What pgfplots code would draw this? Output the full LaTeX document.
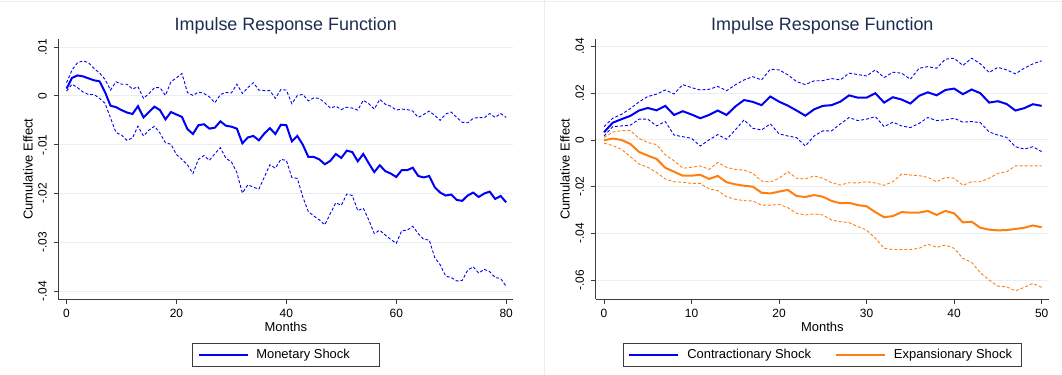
\documentclass[border=0pt]{standalone}
\usepackage{fontspec}
\setmainfont{Liberation Sans}
\usepackage{pgfplots}
\usepackage{pgfplotstable}
\pgfplotsset{compat=1.18}

\definecolor{irfblue}{RGB}{0,0,245}
\definecolor{irforange}{RGB}{255,127,14}
\definecolor{titlenavy}{RGB}{28,45,80}
\definecolor{gridc}{RGB}{231,239,242}
\definecolor{axisc}{RGB}{60,60,60}

% Monetary shock: point estimate (m), upper (hi) and lower (lo) bands
\pgfplotstableread{
t m hi lo
0 0.0015 0.0027 0.0010
1 0.0037 0.0053 0.0024
2 0.0042 0.0068 0.0017
3 0.0040 0.0072 0.0008
4 0.0036 0.0068 0.0003
5 0.0032 0.0056 0.0003
6 0.0030 0.0047 -0.0005
7 0.0008 0.0034 -0.0015
8 -0.0020 0.0012 -0.0045
9 -0.0023 0.0029 -0.0075
10 -0.0029 0.0024 -0.0080
11 -0.0034 0.0024 -0.0091
12 -0.0037 0.0014 -0.0086
13 -0.0021 0.0019 -0.0062
14 -0.0044 -0.0005 -0.0082
15 -0.0033 0.0005 -0.0070
16 -0.0022 0.0017 -0.0062
17 -0.0029 0.0017 -0.0076
18 -0.0048 0.0001 -0.0096
19 -0.0033 0.0029 -0.0099
20 -0.0038 0.0037 -0.0120
21 -0.0043 0.0046 -0.0130
22 -0.0068 0.0007 -0.0141
23 -0.0078 0.0001 -0.0159
24 -0.0060 0.0008 -0.0130
25 -0.0058 0.0005 -0.0122
26 -0.0067 -0.0002 -0.0132
27 -0.0065 -0.0014 -0.0118
28 -0.0052 0.0003 -0.0106
29 -0.0061 0.0007 -0.0128
30 -0.0063 0.0006 -0.0135
31 -0.0067 0.0024 -0.0157
32 -0.0097 0.0005 -0.0199
33 -0.0085 0.0017 -0.0182
34 -0.0082 0.0027 -0.0187
35 -0.0091 0.0012 -0.0191
36 -0.0077 0.0011 -0.0166
37 -0.0066 0.0011 -0.0141
38 -0.0078 -0.0005 -0.0148
39 -0.0059 0.0013 -0.0130
40 -0.0060 0.0012 -0.0132
41 -0.0093 -0.0016 -0.0167
42 -0.0082 0.0001 -0.0169
43 -0.0100 0.0003 -0.0207
44 -0.0125 -0.0010 -0.0237
45 -0.0125 -0.0004 -0.0246
46 -0.0130 -0.0005 -0.0254
47 -0.0140 -0.0014 -0.0264
48 -0.0133 -0.0025 -0.0241
49 -0.0119 -0.0021 -0.0219
50 -0.0127 -0.0028 -0.0224
51 -0.0112 -0.0023 -0.0201
52 -0.0115 -0.0025 -0.0204
53 -0.0134 -0.0029 -0.0235
54 -0.0119 -0.0009 -0.0230
55 -0.0138 -0.0016 -0.0254
56 -0.0156 -0.0027 -0.0282
57 -0.0142 -0.0007 -0.0275
58 -0.0154 -0.0017 -0.0285
59 -0.0159 -0.0021 -0.0294
60 -0.0166 -0.0029 -0.0302
61 -0.0152 -0.0027 -0.0276
62 -0.0152 -0.0028 -0.0275
63 -0.0147 -0.0031 -0.0267
64 -0.0164 -0.0044 -0.0282
65 -0.0167 -0.0038 -0.0294
66 -0.0164 -0.0031 -0.0295
67 -0.0187 -0.0040 -0.0331
68 -0.0198 -0.0050 -0.0346
69 -0.0204 -0.0037 -0.0369
70 -0.0202 -0.0033 -0.0372
71 -0.0213 -0.0044 -0.0379
72 -0.0215 -0.0054 -0.0378
73 -0.0204 -0.0055 -0.0357
74 -0.0198 -0.0046 -0.0350
75 -0.0207 -0.0044 -0.0363
76 -0.0200 -0.0045 -0.0355
77 -0.0196 -0.0036 -0.0360
78 -0.0211 -0.0044 -0.0372
79 -0.0205 -0.0036 -0.0374
80 -0.0218 -0.0044 -0.0390
}\monetary

% Contractionary (c*) and expansionary (e*) shocks with their bands
\pgfplotstableread{
t cm chi clo em ehi elo
0 0.0033 0.0057 0.0017 -0.0001 0.0011 -0.0014
1 0.0074 0.0093 0.0057 0.0006 0.0034 -0.0024
2 0.0089 0.0110 0.0060 0.0000 0.0040 -0.0040
3 0.0103 0.0134 0.0063 -0.0017 0.0040 -0.0071
4 0.0126 0.0163 0.0089 -0.0051 0.0007 -0.0103
5 0.0137 0.0186 0.0089 -0.0067 -0.0011 -0.0117
6 0.0127 0.0196 0.0060 -0.0081 -0.0020 -0.0139
7 0.0146 0.0214 0.0079 -0.0119 -0.0064 -0.0167
8 0.0107 0.0197 0.0021 -0.0136 -0.0089 -0.0179
9 0.0123 0.0237 0.0014 -0.0153 -0.0121 -0.0181
10 0.0109 0.0224 0.0007 -0.0153 -0.0117 -0.0186
11 0.0093 0.0214 -0.0026 -0.0149 -0.0111 -0.0186
12 0.0107 0.0217 0.0000 -0.0167 -0.0126 -0.0210
13 0.0126 0.0229 0.0023 -0.0154 -0.0096 -0.0217
14 0.0107 0.0211 0.0003 -0.0181 -0.0117 -0.0243
15 0.0143 0.0236 0.0043 -0.0190 -0.0126 -0.0254
16 0.0171 0.0257 0.0086 -0.0196 -0.0129 -0.0260
17 0.0163 0.0271 0.0050 -0.0200 -0.0143 -0.0261
18 0.0149 0.0257 0.0043 -0.0226 -0.0176 -0.0279
19 0.0186 0.0303 0.0069 -0.0229 -0.0180 -0.0279
20 0.0164 0.0300 0.0026 -0.0221 -0.0164 -0.0276
21 0.0147 0.0279 0.0017 -0.0214 -0.0136 -0.0290
22 0.0126 0.0250 0.0010 -0.0240 -0.0164 -0.0314
23 0.0104 0.0237 -0.0026 -0.0244 -0.0167 -0.0321
24 0.0131 0.0253 0.0017 -0.0236 -0.0154 -0.0317
25 0.0146 0.0254 0.0039 -0.0243 -0.0164 -0.0321
26 0.0149 0.0263 0.0039 -0.0261 -0.0183 -0.0343
27 0.0164 0.0257 0.0069 -0.0271 -0.0193 -0.0350
28 0.0191 0.0286 0.0096 -0.0269 -0.0183 -0.0354
29 0.0181 0.0280 0.0083 -0.0279 -0.0184 -0.0371
30 0.0181 0.0274 0.0089 -0.0284 -0.0179 -0.0386
31 0.0200 0.0300 0.0100 -0.0309 -0.0184 -0.0421
32 0.0160 0.0267 0.0057 -0.0331 -0.0194 -0.0464
33 0.0183 0.0290 0.0076 -0.0326 -0.0179 -0.0469
34 0.0173 0.0286 0.0060 -0.0309 -0.0146 -0.0469
35 0.0156 0.0260 0.0053 -0.0311 -0.0150 -0.0469
36 0.0189 0.0307 0.0071 -0.0311 -0.0153 -0.0464
37 0.0204 0.0314 0.0096 -0.0304 -0.0160 -0.0446
38 0.0191 0.0307 0.0083 -0.0321 -0.0179 -0.0460
39 0.0214 0.0346 0.0086 -0.0304 -0.0160 -0.0450
40 0.0220 0.0350 0.0093 -0.0314 -0.0164 -0.0464
41 0.0196 0.0319 0.0076 -0.0353 -0.0194 -0.0507
42 0.0216 0.0350 0.0079 -0.0350 -0.0179 -0.0524
43 0.0200 0.0326 0.0074 -0.0376 -0.0179 -0.0569
44 0.0160 0.0289 0.0034 -0.0384 -0.0164 -0.0600
45 0.0166 0.0311 0.0021 -0.0387 -0.0143 -0.0626
46 0.0154 0.0300 0.0011 -0.0386 -0.0136 -0.0629
47 0.0126 0.0283 -0.0029 -0.0381 -0.0111 -0.0646
48 0.0136 0.0307 -0.0039 -0.0376 -0.0111 -0.0631
49 0.0153 0.0326 -0.0029 -0.0366 -0.0111 -0.0614
50 0.0146 0.0339 -0.0050 -0.0374 -0.0111 -0.0631
}\asym

\tikzset{
  band/.style={dash pattern=on 3bp off 2bp, line width=0.9bp},
  est/.style={line width=2bp},
}

\pgfplotsset{
  irf/.style={
    scale only axis,
    no markers,
    scaled y ticks=false, scaled x ticks=false,
    axis x line*=bottom, axis y line*=left,
    axis line style={axisc, line width=0.9bp},
    tick style={axisc, line width=0.9bp},
    tick align=outside, major tick length=4.5bp,
    ymajorgrids, major grid style={gridc, line width=1bp},
    /pgf/number format/assume math mode=true,
    ticklabel style={font=\fontsize{12}{14}\selectfont, text=black},
    xticklabel style={inner sep=0pt, anchor=north, yshift=-5.2bp},
    yticklabel style={inner sep=0pt, anchor=base, xshift=-7.3bp, rotate=90},
    label style={font=\fontsize{13}{15}\selectfont},
    xlabel=Months, ylabel=Cumulative Effect,
    xlabel style={inner sep=0pt, anchor=north, at={(axis description cs:0.5,0)}, yshift=-22.7bp},
    title=Impulse Response Function,
    title style={font=\fontsize{18}{20}\selectfont, color=titlenavy, inner sep=0pt,
      anchor=base, at={(axis description cs:0.5,1)}, yshift=2.8bp},
    legend style={draw=axisc, line width=0.9bp, font=\fontsize{13}{15}\selectfont,
      inner xsep=5.7bp, inner ysep=6.4bp, nodes={inner sep=0pt},
      anchor=north, at={(axis description cs:0.5,-0.1683)}},
    legend image code/.code={\draw[#1, line width=1.3bp] (0bp,0bp) -- (49bp,0bp);},
  }
}

\begin{document}
\begin{tikzpicture}
\useasboundingbox (0,0) rectangle (1062bp,-375bp);
\draw[black!7, line width=0.8bp] (0,-1bp) -- (1062bp,-1bp);
\draw[black!7, line width=0.8bp] (544bp,0) -- (544bp,-375bp);

% Monetary shock
\begin{axis}[irf,
  at={(58.3bp,-299bp)}, anchor=south west,
  width=455bp, height=259.7bp,
  xmin=-1.5, xmax=81.3, ymin=-0.0416, ymax=0.0116,
  xtick={0,20,40,60,80},
  ytick={-0.04,-0.03,-0.02,-0.01,0,0.01},
  yticklabels={-.04,-.03,-.02,-.01,0,.01},
  ylabel style={at={(axis description cs:-0.0666,0.5)}, anchor=center, inner sep=0pt},
  legend style={/tikz/column sep=7.7bp},
]
\addplot[irfblue, band, forget plot] table[x=t, y=hi] {\monetary};
\addplot[irfblue, band, forget plot] table[x=t, y=lo] {\monetary};
\addplot[irfblue, est] table[x=t, y=m] {\monetary};
\addlegendentry{Monetary Shock\rule{23.4bp}{0pt}}
\end{axis}

% Contractionary vs expansionary shocks
\begin{axis}[irf,
  at={(595.7bp,-299bp)}, anchor=south west,
  width=453.3bp, height=259.7bp,
  xmin=-0.95, xmax=50.84, ymin=-0.0681, ymax=0.0431,
  xtick={0,10,20,30,40,50},
  ytick={-0.06,-0.04,-0.02,0,0.02,0.04},
  yticklabels={-.06,-.04,-.02,0,.02,.04},
  ylabel style={at={(axis description cs:-0.0677,0.5)}, anchor=center, inner sep=0pt},
  legend columns=2,
  legend style={/tikz/column sep=8.3bp,
    /tikz/every even column/.append style={column sep=24.3bp}},
]
\addplot[irfblue, band, forget plot] table[x=t, y=chi] {\asym};
\addplot[irfblue, band, forget plot] table[x=t, y=clo] {\asym};
\addplot[irforange, band, forget plot] table[x=t, y=ehi] {\asym};
\addplot[irforange, band, forget plot] table[x=t, y=elo] {\asym};
\addplot[irfblue, est] table[x=t, y=cm] {\asym};
\addlegendentry{Contractionary Shock}
\addplot[irforange, est] table[x=t, y=em] {\asym};
\addlegendentry{Expansionary Shock\rule{4bp}{0pt}}
\end{axis}
\end{tikzpicture}
\end{document}
